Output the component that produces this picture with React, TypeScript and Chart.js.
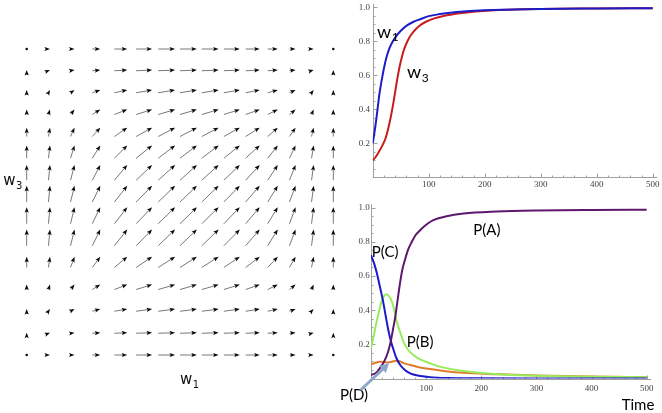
import React, { useEffect, useRef } from "react";
import { Chart, registerables } from "chart.js";

Chart.register(...registerables);

// ---------- Left: vector field of (dw1/dt, dw3/dt) ----------
const w1Grid = [0, 0.071, 0.143, 0.214, 0.286, 0.357, 0.429, 0.5, 0.571, 0.643, 0.714, 0.786, 0.857, 0.929, 1];
const w3Grid = [0, 0.071, 0.143, 0.214, 0.286, 0.357, 0.429, 0.5, 0.571, 0.643, 0.714, 0.786, 0.857, 0.929, 1];
// horizontal component (depends on w1 column)
const dw1AtW1 = [0, 0.005, 0.013, 0.026, 0.042, 0.052, 0.055, 0.055, 0.055, 0.052, 0.046, 0.033, 0.02, 0.007, 0];
// vertical component (depends on w3 row)
const dw3AtW3 = [0, 0.002, 0.007, 0.016, 0.035, 0.053, 0.054, 0.053, 0.05, 0.042, 0.029, 0.016, 0.009, 0.002, 0];

// ---------- Top right: w1, w3 vs time ----------
const timeW1 = [0, 3, 6, 9, 12, 16, 20, 25, 30, 36, 43, 52, 62, 73, 85, 100, 120, 150, 200, 300, 400, 500];
const valW1 = [0.2, 0.26, 0.33, 0.41, 0.49, 0.57, 0.64, 0.71, 0.76, 0.8, 0.835, 0.868, 0.895, 0.915, 0.93, 0.948, 0.96, 0.972, 0.983, 0.99, 0.993, 0.995];
const timeW3 = [0, 5, 11, 17, 23, 28, 32, 36, 40, 44, 48, 53, 58, 65, 73, 83, 95, 110, 130, 160, 210, 300, 400, 500];
const valW3 = [0.1, 0.118, 0.15, 0.185, 0.23, 0.29, 0.35, 0.42, 0.5, 0.58, 0.65, 0.72, 0.77, 0.82, 0.857, 0.89, 0.915, 0.935, 0.952, 0.967, 0.981, 0.99, 0.993, 0.995];

// ---------- Bottom right: P(A..D) vs time ----------
const timePA = [0, 10, 16, 24, 31, 36, 40, 44, 47, 50, 53, 57, 62, 68, 74, 81, 89, 100, 113, 135, 168, 228, 300, 400, 500];
const valPA = [0.02, 0.035, 0.06, 0.1, 0.157, 0.22, 0.29, 0.36, 0.43, 0.5, 0.566, 0.64, 0.7, 0.76, 0.8, 0.84, 0.868, 0.9, 0.927, 0.948, 0.966, 0.978, 0.984, 0.987, 0.988];
const timePC = [0, 5, 10, 16, 22, 27, 31, 36, 40, 46, 53, 62, 71, 85, 107, 140, 200, 300, 500];
const valPC = [0.722, 0.68, 0.625, 0.54, 0.45, 0.36, 0.29, 0.22, 0.177, 0.12, 0.079, 0.048, 0.03, 0.017, 0.008, 0.003, 0.001, 0, 0];
const timePB = [0, 5, 10, 15, 19, 23, 28, 33, 38, 43, 47, 53, 59, 67, 77, 90, 107, 130, 168, 228, 300, 400, 500];
const valPB = [0.18, 0.25, 0.33, 0.4, 0.45, 0.48, 0.494, 0.48, 0.45, 0.39, 0.33, 0.27, 0.215, 0.17, 0.137, 0.11, 0.089, 0.065, 0.044, 0.025, 0.016, 0.01, 0.008];
const timePD = [0, 8, 16, 24, 31, 38, 47, 53, 59, 70, 83, 107, 135, 168, 228, 300, 400, 500];
const valPD = [0.083, 0.092, 0.098, 0.097, 0.094, 0.098, 0.104, 0.1, 0.09, 0.08, 0.069, 0.055, 0.043, 0.033, 0.025, 0.017, 0.011, 0.008];

const timeTicks = [100, 200, 300, 400, 500];
const probTicks = [0.2, 0.4, 0.6, 0.8, 1.0];

const toXY = (t: number[], v: number[]) => t.map((x, i) => ({ x, y: v[i] }));

function drawSub(ctx: CanvasRenderingContext2D, base: string, sub: string, x: number, y: number, font: string, subFont: string, drop: number) {
  ctx.font = font;
  ctx.fillText(base, x, y);
  const w = ctx.measureText(base).width;
  ctx.font = subFont;
  ctx.fillText(sub, x + w + 0.5, y + drop);
}

const arrowPlugin = {
  id: "arrows",
  afterDatasetsDraw(chart: any) {
    const { ctx } = chart;
    const xs = chart.scales.x;
    const ys = chart.scales.y;
    const pts = chart.data.datasets[0].data as any[];
    ctx.save();
    for (const p of pts) {
      const x0 = xs.getPixelForValue(p.x);
      const y0 = ys.getPixelForValue(p.y);
      const x1 = xs.getPixelForValue(p.x + p.u);
      const y1 = ys.getPixelForValue(p.y + p.v);
      const dx = x1 - x0;
      const dy = y1 - y0;
      const L = Math.hypot(dx, dy);
      if (L < 0.3) {
        ctx.fillStyle = "#111";
        ctx.beginPath();
        ctx.arc(x0, y0, 1.3, 0, Math.PI * 2);
        ctx.fill();
        continue;
      }
      const ux = dx / L;
      const uy = dy / L;
      const H = 5.5;
      const W = 2.1;
      if (L > H * 0.7) {
        ctx.strokeStyle = "#555";
        ctx.lineWidth = 0.8;
        ctx.beginPath();
        ctx.moveTo(x0, y0);
        ctx.lineTo(x1 - ux * H * 0.6, y1 - uy * H * 0.6);
        ctx.stroke();
      }
      ctx.fillStyle = "#0a0a0a";
      ctx.beginPath();
      ctx.moveTo(x1, y1);
      ctx.lineTo(x1 - ux * H - uy * W, y1 - uy * H + ux * W);
      ctx.lineTo(x1 - ux * H * 0.8, y1 - uy * H * 0.8);
      ctx.lineTo(x1 - ux * H + uy * W, y1 - uy * H - ux * W);
      ctx.closePath();
      ctx.fill();
    }
    ctx.restore();
  },
};

const fieldLabels = {
  id: "fieldLabels",
  afterDraw(chart: any) {
    const { ctx } = chart;
    ctx.save();
    ctx.fillStyle = "#111";
    ctx.textBaseline = "alphabetic";
    drawSub(ctx, "w", "3", 3.3, 185, '15px "DejaVu Sans"', '10px "DejaVu Sans"', 3.5);
    drawSub(ctx, "w", "1", 180, 384.3, '15px "DejaVu Sans"', '10px "DejaVu Sans"', 4);
    ctx.restore();
  },
};

// Mathematica-style axes: axis lines, inward major/minor ticks, tick labels
function makeAxes(xPad: number, yPad: number) {
  return {
    id: "mmaAxes",
    beforeDatasetsDraw(chart: any) {
      const { ctx, chartArea } = chart;
      const x = chart.scales.x;
      const y = chart.scales.y;
      const x0 = Math.round(x.getPixelForValue(0)) + 0.5;
      const y0 = Math.round(y.getPixelForValue(0)) + 0.5;
      ctx.save();
      ctx.strokeStyle = "#a0a0a0";
      ctx.lineWidth = 1;
      ctx.beginPath();
      ctx.moveTo(chartArea.left, y0);
      ctx.lineTo(chartArea.right, y0);
      ctx.moveTo(x0, chartArea.top);
      ctx.lineTo(x0, chartArea.bottom);
      for (let k = 1; k * 20 <= x.max; k++) {
        const len = k % 5 === 0 ? 4 : 2;
        const px = Math.round(x.getPixelForValue(k * 20)) + 0.5;
        ctx.moveTo(px, y0);
        ctx.lineTo(px, y0 - len);
      }
      for (let k = 1; k * 0.05 <= y.max + 1e-9; k++) {
        const len = k % 4 === 0 ? 4 : 2;
        const py = Math.round(y.getPixelForValue(k * 0.05)) + 0.5;
        ctx.moveTo(x0, py);
        ctx.lineTo(x0 + len, py);
      }
      ctx.stroke();
      ctx.fillStyle = "#444";
      ctx.font = '9px "Liberation Serif"';
      ctx.textAlign = "center";
      ctx.textBaseline = "top";
      timeTicks.forEach((v) => ctx.fillText(String(v), x.getPixelForValue(v), y0 + xPad));
      ctx.textAlign = "right";
      ctx.textBaseline = "middle";
      probTicks.forEach((v) => ctx.fillText(v.toFixed(1), x0 - yPad, y.getPixelForValue(v)));
      ctx.restore();
    },
  };
}

const hiddenScales = {
  x: { type: "linear", min: 0, max: 508, display: false },
  y: { type: "linear", min: 0, max: 1.02, display: false },
};

const lineDs = (label: string, t: number[], v: number[], color: string) => ({
  label,
  data: toXY(t, v),
  borderColor: color,
  backgroundColor: color,
  borderWidth: 2,
  pointRadius: 0,
  fill: false,
  cubicInterpolationMode: "monotone",
});

export default function App() {
  const fieldRef = useRef<HTMLCanvasElement>(null);
  const topRef = useRef<HTMLCanvasElement>(null);
  const botRef = useRef<HTMLCanvasElement>(null);

  useEffect(() => {
    const charts: Chart[] = [];

    const fieldPoints: any[] = [];
    w3Grid.forEach((w3, j) => {
      w1Grid.forEach((w1, i) => {
        fieldPoints.push({ x: w1, y: w3, u: dw1AtW1[i], v: dw3AtW3[j] });
      });
    });

    charts.push(
      new Chart(fieldRef.current!, {
        type: "scatter",
        data: { datasets: [{ data: fieldPoints, pointRadius: 0, pointHoverRadius: 0 }] },
        options: {
          responsive: false,
          animation: false,
          events: [],
          layout: { autoPadding: false, padding: { left: 26.7, top: 49, right: 11.7, bottom: 58 } },
          scales: {
            x: { type: "linear", min: 0, max: 1, display: false },
            y: { type: "linear", min: 0, max: 1, display: false },
          },
          plugins: { legend: { display: false }, tooltip: { enabled: false } },
        } as any,
        plugins: [arrowPlugin, fieldLabels],
      })
    );

    const topLabels = {
      id: "topLabels",
      afterDraw(chart: any) {
        const { ctx } = chart;
        ctx.save();
        ctx.fillStyle = "#000";
        drawSub(ctx, "w", "1", 32, 37.7, '18px "Lato"', '12px "Lato"', 3);
        drawSub(ctx, "w", "3", 62, 78.3, '18px "Lato"', '12px "Lato"', 4);
        ctx.restore();
      },
    };

    charts.push(
      new Chart(topRef.current!, {
        type: "line",
        data: {
          datasets: [lineDs("w1", timeW1, valW1, "#1c1cc8"), lineDs("w3", timeW3, valW3, "#c81c1c")],
        },
        options: {
          responsive: false,
          animation: false,
          events: [],
          layout: { autoPadding: false, padding: { left: 27.7, top: 3.9, right: 4.8, bottom: 17.7 } },
          scales: hiddenScales,
          plugins: { legend: { display: false }, tooltip: { enabled: false } },
        } as any,
        plugins: [makeAxes(2.5, 3.4), topLabels],
      })
    );

    const botLabels = {
      id: "botLabels",
      afterDraw(chart: any) {
        const { ctx } = chart;
        ctx.save();
        ctx.fillStyle = "#000";
        ctx.font = '15px "Lato"';
        ctx.fillText("P(A)", 138.3, 40.3);
        ctx.fillText("P(C)", 36.7, 61.5);
        ctx.fillText("P(B)", 71.7, 151.5);
        ctx.fillText("P(D)", 5, 205);
        ctx.fillText("Time", 286.7, 214.5);
        // pointer arrow from P(D)
        const tx = 26.7, ty = 194, hx = 54, hy = 168.3;
        const L = Math.hypot(hx - tx, hy - ty);
        const ux = (hx - tx) / L, uy = (hy - ty) / L;
        ctx.strokeStyle = "#8ca7c9";
        ctx.fillStyle = "#8ca7c9";
        ctx.lineWidth = 3;
        ctx.lineCap = "round";
        ctx.beginPath();
        ctx.moveTo(tx, ty);
        ctx.lineTo(hx - ux * 7, hy - uy * 7);
        ctx.stroke();
        ctx.beginPath();
        ctx.moveTo(hx, hy);
        ctx.lineTo(hx - ux * 9 - uy * 5, hy - uy * 9 + ux * 5);
        ctx.lineTo(hx - ux * 9 + uy * 5, hy - uy * 9 - ux * 5);
        ctx.closePath();
        ctx.fill();
        ctx.restore();
      },
    };

    charts.push(
      new Chart(botRef.current!, {
        type: "line",
        data: {
          datasets: [
            lineDs("P(A)", timePA, valPA, "#5e176e"),
            lineDs("P(C)", timePC, valPC, "#1a1acc"),
            lineDs("P(B)", timePB, valPB, "#98ec5c"),
            lineDs("P(D)", timePD, valPD, "#e07b2e"),
          ],
        },
        options: {
          responsive: false,
          animation: false,
          events: [],
          layout: { autoPadding: false, padding: { left: 36, top: 9.3, right: 10.9, bottom: 34.5 } },
          scales: hiddenScales,
          plugins: { legend: { display: false }, tooltip: { enabled: false } },
        } as any,
        plugins: [makeAxes(4.7, 1.8), botLabels],
      })
    );

    return () => charts.forEach((c) => c.destroy());
  }, []);

  return (
    <div style={{ position: "fixed", left: 0, top: 0, width: 662, height: 413, background: "#fff", overflow: "hidden" }}>
      <canvas ref={fieldRef} width={345} height={413} style={{ position: "absolute", left: 0, top: 0 }} />
      <canvas ref={topRef} width={317} height={195} style={{ position: "absolute", left: 345, top: 0 }} />
      <canvas ref={botRef} width={327} height={218} style={{ position: "absolute", left: 335, top: 195 }} />
    </div>
  );
}
